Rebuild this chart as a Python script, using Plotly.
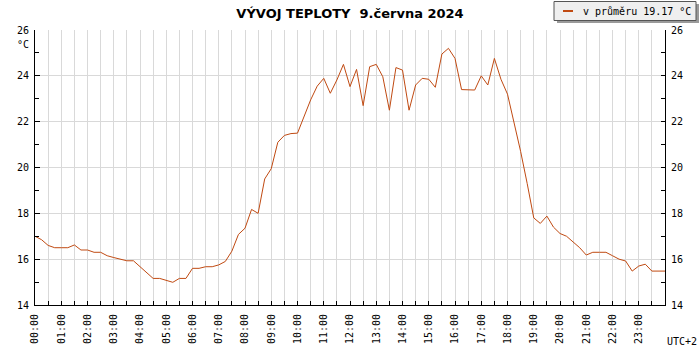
import plotly.graph_objects as go

# 15-minute readings, 00:00 .. 24:00
times_h = [i * 0.25 for i in range(97)]
temps = [
    17.0, 16.85, 16.6, 16.5, 16.5, 16.5, 16.62, 16.4,          # 00:00-01:45
    16.4, 16.3, 16.3, 16.15, 16.07, 16.0, 15.93, 15.93,        # 02:00-03:45
    15.67, 15.38, 15.16, 15.16, 15.09, 14.99, 15.16, 15.16,    # 04:00-05:45
    15.6, 15.6, 15.67, 15.67, 15.75, 15.9, 16.35, 17.08,       # 06:00-07:45
    17.35, 18.17, 18.0, 19.5, 19.95, 21.1, 21.4, 21.48,        # 08:00-09:45
    21.5, 22.2, 22.95, 23.55, 23.89, 23.24, 23.82, 24.5,       # 10:00-11:45
    23.53, 24.28, 22.7, 24.4, 24.5, 23.96, 22.5, 24.36,        # 12:00-13:45
    24.25, 22.5, 23.6, 23.89, 23.85, 23.5, 24.95, 25.2,        # 14:00-15:45
    24.76, 23.4, 23.38, 23.38, 24.0, 23.6, 24.76, 23.85,       # 16:00-17:45
    23.2, 22.0, 20.7, 19.3, 17.8, 17.56, 17.88, 17.4,          # 18:00-19:45
    17.12, 17.0, 16.75, 16.5, 16.18, 16.3, 16.3, 16.3,         # 20:00-21:45
    16.15, 16.0, 15.92, 15.48, 15.7, 15.78, 15.48, 15.48,      # 22:00-23:45
    15.48,                                                     # 24:00
]
hour_ticks = list(range(24))
hour_labels = [f"{h:02d}:00" for h in hour_ticks]
y_ticks = [14, 16, 18, 20, 22, 24, 26]
title_text = "VÝVOJ TEPLOTY\u00a0\u00a09.června 2024"
legend_text = "v průměru 19.17 °C"
unit_text = "°C"
tz_text = "UTC+2"

LINE_COLOR = "#c04a12"
GRID = "#d9d9d9"
MONO = "DejaVu Sans Mono"

L, R, T, B = 35, 665, 30, 305


def px(x):
    return (x - L) / (R - L)


def py(y):
    return (B - y) / (B - T)


fig = go.Figure()
fig.add_trace(go.Scatter(x=times_h, y=temps, mode="lines",
                         line=dict(color=LINE_COLOR, width=1),
                         showlegend=False, hoverinfo="x+y"))
fig.add_trace(go.Scatter(x=times_h, y=temps, mode="lines", yaxis="y2",
                         line=dict(color="rgba(0,0,0,0)", width=0),
                         showlegend=False, hoverinfo="skip"))

axis_font = dict(family=MONO, size=10, color="#000")

fig.update_layout(
    width=700, height=350, autosize=False,
    margin=dict(l=L, r=700 - R, t=T, b=350 - B, pad=0, autoexpand=False),
    paper_bgcolor="white", plot_bgcolor="white",
    title=dict(text=title_text, x=0.5, xanchor="center", y=1 - 13 / 350,
               yanchor="middle", automargin=False,
               font=dict(family="DejaVu Sans", size=13, color="#000", weight="bold")),
    xaxis=dict(range=[0, 24], tickmode="array", tickvals=hour_ticks,
               ticktext=hour_labels, tickangle=-90, ticks="inside", ticklen=4,
               tickcolor="#000", showgrid=True, gridcolor=GRID, gridwidth=1,
               showline=True, linecolor="#000", linewidth=1, zeroline=False,
               tickfont=axis_font, automargin=False, ticklabelstandoff=4,
               minor=dict(dtick=0.5, tick0=0, ticks="inside", ticklen=4,
                          tickcolor="#000", showgrid=True, gridcolor=GRID)),
    yaxis=dict(range=[14, 26], tickmode="array", tickvals=y_ticks,
               ticks="inside", ticklen=5, tickcolor="#000",
               showgrid=True, gridcolor=GRID, showline=True, linecolor="#000",
               linewidth=1, zeroline=False, tickfont=axis_font, automargin=False,
               ticklabelstandoff=3,
               minor=dict(dtick=1, tick0=14, ticks="inside", ticklen=4,
                          tickcolor="#000", showgrid=False)),
    yaxis2=dict(range=[14, 26], overlaying="y", side="right", tickmode="array",
                tickvals=y_ticks, ticks="inside", ticklen=4, tickcolor="#000",
                showgrid=False, showline=True, linecolor="#000", linewidth=1,
                zeroline=False, tickfont=axis_font, automargin=False,
                ticklabelstandoff=3,
                minor=dict(dtick=1, tick0=14, ticks="inside", ticklen=4,
                           tickcolor="#000")),
)

# legend box drawn as shapes
shapes = [
    dict(type="rect", xref="paper", yref="paper", x0=px(557), x1=px(699),
         y0=py(23), y1=py(4), fillcolor="#9a9a9a", line=dict(width=0), layer="above"),
    dict(type="rect", xref="paper", yref="paper", x0=px(554), x1=px(696),
         y0=py(20.5), y1=py(1.5), fillcolor="#efefef",
         line=dict(color="#555", width=1), layer="above"),
    dict(type="line", xref="paper", yref="paper", x0=px(563), x1=px(573),
         y0=py(11), y1=py(11), line=dict(color=LINE_COLOR, width=2), layer="above"),
]
fig.update_layout(shapes=shapes)

fig.add_annotation(text=legend_text, xref="paper", yref="paper", x=px(581),
                   y=py(11), xanchor="left", yanchor="middle", showarrow=False,
                   font=dict(family=MONO, size=10, color="#000"))
fig.add_annotation(text=unit_text, xref="paper", yref="paper", x=px(23),
                   y=py(44), xanchor="center", yanchor="middle", showarrow=False,
                   font=axis_font)
fig.add_annotation(text=tz_text, xref="paper", yref="paper", x=px(682),
                   y=py(341), xanchor="center", yanchor="middle", showarrow=False,
                   font=axis_font)

fig.write_html("out.html", config={"displayModeBar": False},
               post_script="document.body.style.margin='0';")
